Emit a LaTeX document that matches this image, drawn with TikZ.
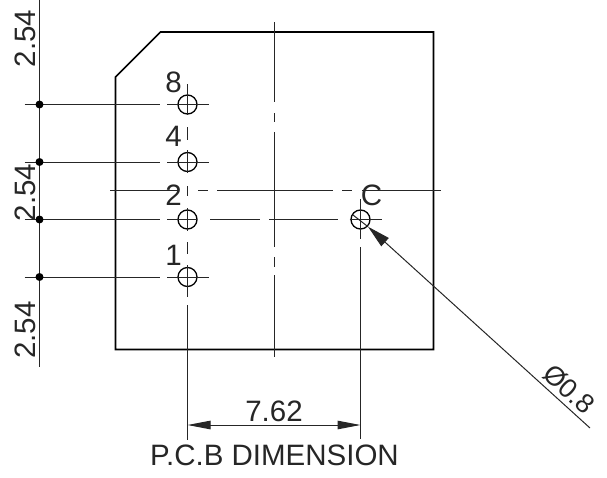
\documentclass[tikz,border=0pt]{standalone}
\usepackage{fontspec}
\setmainfont{Liberation Sans}
\usetikzlibrary{arrows.meta,positioning}
\tikzset{
	outline/.style={line width=1.6pt,black},
	thin line/.style={line width=1pt,black!85},
	hole/.style={circle,draw,line width=1.3pt,minimum size=19pt,inner sep=0pt},
	label/.style={font=\fontsize{29.5}{29.5}\selectfont,inner sep=0pt,text=black!85},
	dim/.style={thin line,{Triangle[length=23pt,width=8.5pt]}-{Triangle[length=23pt,width=8.5pt]}},
	leader/.style={thin line,{Triangle[length=23pt,width=11pt]}-}
}
\begin{document}
\begin{tikzpicture}[x=1pt,y=-1pt]
	  \useasboundingbox (0,0) rectangle (607,477);
	  % Board outline
	  \draw[outline] (115.5,77) -- (160.5,32) -- (433.5,32) -- (433.5,349.5) -- (115.5,349.5) -- cycle;
	  % Holes
	  \node[hole] (pin8) at (187.5,104.5) {};
	  \node[hole] (pin4) at (187.5,162) {};
	  \node[hole] (pin2) at (187.5,219.5) {};
	  \node[hole] (pin1) at (187.5,277) {};
	  \node[hole] (pinc) at (360.5,219.5) {};
	  % Vertical centre line of the board
	  \draw[thin line] (274.5,22) -- (274.5,102);
	  \draw[thin line] (274.5,113) -- (274.5,122);
	  \draw[thin line] (274.5,132) -- (274.5,247);
	  \draw[thin line] (274.5,257) -- (274.5,267);
	  \draw[thin line] (274.5,275) -- (274.5,357);
	  % Horizontal centre line of the board
	  \draw[thin line] (110,190.5) -- (178,190.5);
	  \draw[thin line] (187.5,186) -- (187.5,196);
	  \draw[thin line] (198,190.5) -- (208,190.5);
	  \draw[thin line] (217,190.5) -- (333,190.5);
	  \draw[thin line] (342,190.5) -- (352,190.5);
	  \draw[thin line] (362,190.5) -- (441,190.5);
	  % Centre lines of the left holes
	  \draw[thin line] (187.5,84) -- (187.5,115);
	  \draw[thin line] (187.5,127) -- (187.5,140);
	  \draw[thin line] (187.5,150) -- (187.5,173);
	  \draw[thin line] (187.5,208) -- (187.5,231);
	  \draw[thin line] (187.5,242) -- (187.5,254);
	  \draw[thin line] (187.5,265) -- (187.5,297);
	  \draw[thin line] (187.5,305) -- (187.5,440);
	  \draw[thin line] (24.5,104.5) -- (160,104.5);
	  \draw[thin line] (167,104.5) -- (208.5,104.5);
	  \draw[thin line] (24.5,162) -- (160,162);
	  \draw[thin line] (167,162) -- (208.5,162);
	  \draw[thin line] (24.5,219.5) -- (160,219.5);
	  \draw[thin line] (167,219.5) -- (197,219.5);
	  \draw[thin line] (210,219.5) -- (260,219.5);
	  \draw[thin line] (269,219.5) -- (338,219.5);
	  \draw[thin line] (24.5,277) -- (160,277);
	  \draw[thin line] (167,277) -- (208.5,277);
	  % Lines of the hole C
	  \draw[thin line] (349.5,219.5) -- (381.5,219.5);
	  \draw[thin line] (360.5,199) -- (360.5,239);
	  \draw[thin line] (360.5,247) -- (360.5,439);
	  % Left dimension line with its dots
	  \draw[thin line] (39.5,0) -- (39.5,367);
	  \fill (39.5,104.5) circle (4pt);
	  \fill (39.5,162) circle (4pt);
	  \fill (39.5,219.5) circle (4pt);
	  \fill (39.5,277) circle (4pt);
	  \node[label,rotate=90] (pitchtop) at (25.5,38.5) {2.54};
	  \node[label,rotate=90] (pitchmid) at (25.5,192.5) {2.54};
	  \node[label,rotate=90] (pitchbot) at (25.5,330) {2.54};
	  % Pin labels
	  \node[label] (label8) at (173.5,82) {8};
	  \node[label] (label4) at (173.5,136.5) {4};
	  \node[label] (label2) at (173.5,195.5) {2};
	  \node[label] (label1) at (173.5,255.5) {1};
	  \node[label] (labelc) at (371.5,195.5) {C};
	  % Width dimension
	  \coordinate (width_1) at (187.5,425);
	  \coordinate (width_2) at (360.5,425);
	  \draw[dim] (width_1) -- (width_2);
	  \node[label] (widthtext) at (274,411) {7.62};
	  \node[label] (note) at (274.5,455) {P.C.B DIMENSION};
	  % Leader to the hole C
	  \coordinate (lead_1) at (368,226.7);
	  \coordinate (lead_2) at (590,428);
	  \draw[leader] (lead_1) -- (lead_2);
	  \draw[thin line] (353,215) -- (lead_1);
	  \node[label,rotate=-42,font=\fontsize{27}{27}\selectfont] (drill) at (569,389) {Ø0.8};
      \end{tikzpicture}
\end{document}
